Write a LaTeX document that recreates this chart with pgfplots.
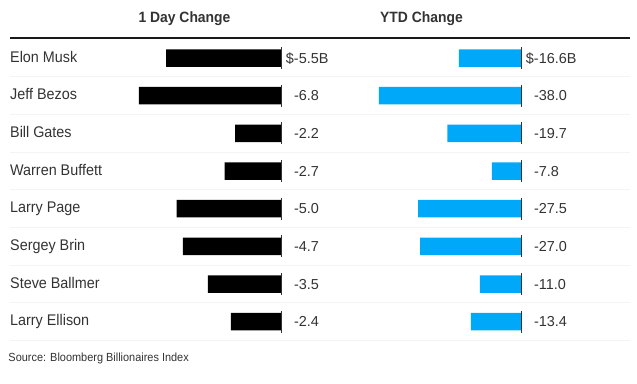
\documentclass[border=0pt]{standalone}
\usepackage{pgfplots}
\pgfplotsset{compat=1.18}
\usepackage{fontspec}
\setmainfont{Liberation Sans}
\newfontfamily\narrow{Liberation Sans}[FakeStretch=0.93]
\definecolor{ytdblue}{RGB}{0,168,250}
\definecolor{txt}{RGB}{51,51,51}
\definecolor{divc}{RGB}{244,244,244}
\begin{document}
\begin{tikzpicture}
\useasboundingbox (0,0) rectangle (637bp,-384bp);
\begin{axis}[at={(10bp,-39.17bp)}, anchor=north west, scale only axis,
  width=271bp, height=301.36bp,
  xmin=-12.967, xmax=0, ymin=-0.5, ymax=7.5, y dir=reverse,
  hide axis, clip=false, xbar, bar width=17.5bp]
\addplot[fill=black, draw=none] coordinates {
  (-5.5,0) (-6.8,1) (-2.2,2) (-2.7,3) (-5.0,4) (-4.7,5) (-3.5,6) (-2.4,7)};
\end{axis}

\begin{axis}[at={(521bp,-39.17bp)}, anchor=north east, scale only axis,
  width=187bp, height=301.36bp,
  xmin=-50, xmax=0, ymin=-0.5, ymax=7.5, y dir=reverse,
  hide axis, clip=false, xbar, bar width=17.5bp]
\addplot[fill=ytdblue, draw=none] coordinates {
  (-16.6,0) (-38.0,1) (-19.7,2) (-7.8,3) (-27.5,4) (-27.0,5) (-11.0,6) (-13.4,7)};
\end{axis}

\begin{scope}[x=1bp,y=-1bp]
% row dividers
\foreach \i in {0,...,7} {
  \draw[divc, line width=0.8bp] (10,{58+37.67*(\i+0.5)}) -- (630,{58+37.67*(\i+0.5)});
}
% header line
\draw[black!90, line width=2bp] (10,37.7) -- (630,37.7);
% titles
\node[font=\narrow\bfseries\fontsize{15}{18}\selectfont, text=txt, anchor=base, inner sep=0] at (184.5,22.7) {1 Day Change};
\node[font=\narrow\bfseries\fontsize{15}{18}\selectfont, text=txt, anchor=base, inner sep=0] at (421.5,22.7) {YTD Change};
% source
\node[font=\narrow\fontsize{11.8}{14}\selectfont, text=txt, anchor=base west, inner sep=0] at (8.3,361.7) {Source: Bloomberg Billionaires Index};
% zero lines
\foreach \i in {0,...,7} {
  \draw[txt, line width=0.9bp] (281,{58+37.67*\i-11}) -- ++(0,22);
  \draw[txt, line width=0.9bp] (521,{58+37.67*\i-11}) -- ++(0,22);
}
% names
\foreach \n [count=\i from 0] in {Elon Musk, Jeff Bezos, Bill Gates, Warren Buffett, Larry Page, Sergey Brin, Steve Ballmer, Larry Ellison} {
  \node[font=\narrow\fontsize{15.5}{18}\selectfont, text=txt, anchor=base west, inner sep=0] at (10,{58+37.67*\i+4}) {\n};
}
% values
\foreach \v [count=\i from 0] in {{\llap{\$}-5.5B}, -6.8, -2.2, -2.7, -5.0, -4.7, -3.5, -2.4} {
  \node[font=\fontsize{14.5}{17}\selectfont, text=txt, anchor=base west, inner sep=0] at (293.8,{58+37.67*\i+5}) {\v};
}
\foreach \v [count=\i from 0] in {{\llap{\$}-16.6B}, -38.0, -19.7, -7.8, -27.5, -27.0, -11.0, -13.4} {
  \node[font=\fontsize{14.5}{17}\selectfont, text=txt, anchor=base west, inner sep=0] at (533.8,{58+37.67*\i+5}) {\v};
}
\end{scope}
\end{tikzpicture}
\end{document}
